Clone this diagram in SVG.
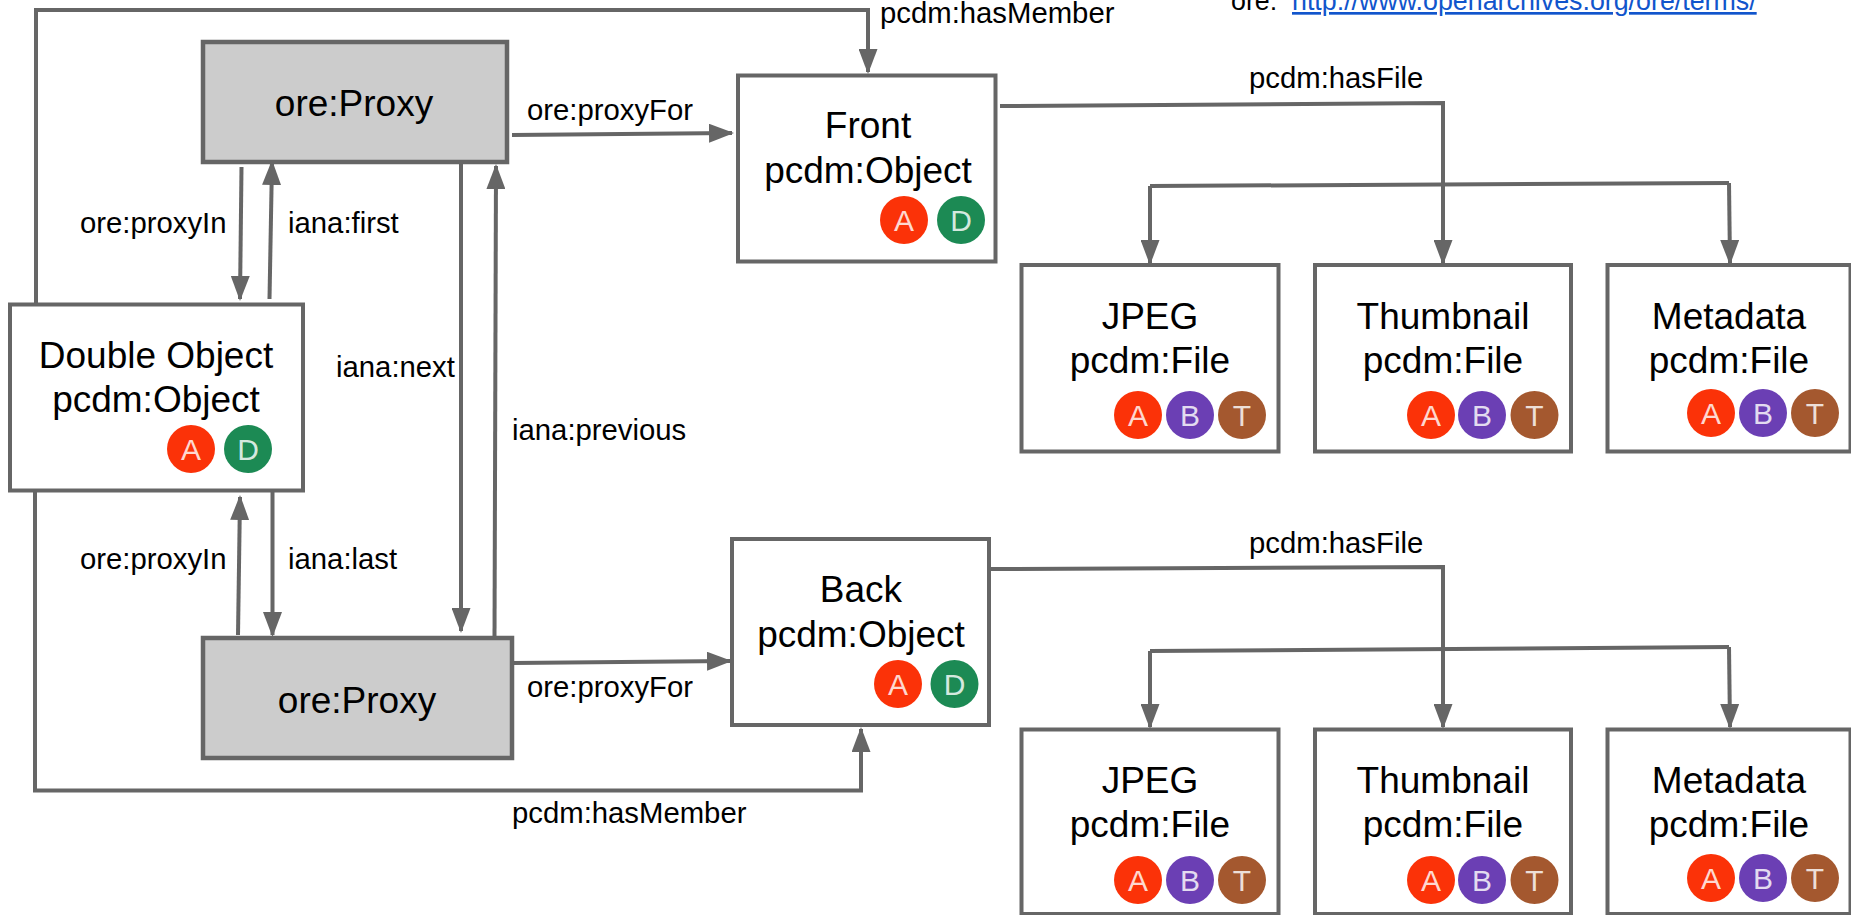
<svg xmlns="http://www.w3.org/2000/svg" xmlns:xlink="http://www.w3.org/1999/xlink" width="1851" height="915" viewBox="0 0 1851 915">
<defs>
<style>
text{font-family:"Liberation Sans",Arial,sans-serif;fill:#000}
.n{fill:#fff;stroke:#666;stroke-width:4}
.p{fill:#ccc;stroke:#666;stroke-width:4.5}
.t{font-size:37px;text-anchor:middle}
.l{font-size:29.3px}
.u{font-size:26.8px}
.c{fill:none;stroke:#666;stroke-width:4}
.b{font-size:30px;text-anchor:middle;fill:#fff;fill-opacity:.82}
</style>
<marker id="h" markerUnits="userSpaceOnUse" markerWidth="25" markerHeight="19" refX="23" refY="9.5" viewBox="0 0 25 19" orient="auto"><path d="M0 0L25 9.5L0 19Z" fill="#666"/></marker>
<g id="a"><circle r="24" fill="#fb3208"/><text class="b" y="11">A</text></g>
<g id="bb"><circle r="24" fill="#6b3fb4"/><text class="b" y="11">B</text></g>
<g id="tt"><circle r="24" fill="#a4582f"/><text class="b" y="11">T</text></g>
<g id="d"><circle r="24" fill="#1c8a54"/><text class="b" y="11">D</text></g>
</defs>
<rect width="1851" height="915" fill="#fff"/>
<g id="connectors">
<path class="c" marker-end="url(#h)" d="M36 304V10H868V72"/>
<path class="c" marker-end="url(#h)" d="M35 490V790.5H861V729"/>
<path class="c" marker-end="url(#h)" d="M241.500 167L240 299"/>
<path class="c" marker-end="url(#h)" d="M269.500 299L272 162"/>
<path class="c" marker-end="url(#h)" d="M461 163V631"/>
<path class="c" marker-end="url(#h)" d="M494.500 640L496 166"/>
<path class="c" marker-end="url(#h)" d="M238 635L240 497"/>
<path class="c" marker-end="url(#h)" d="M272.500 490V635"/>
<path class="c" marker-end="url(#h)" d="M512 135L732 133"/>
<path class="c" marker-end="url(#h)" d="M513 663L730 661"/>
<path class="c" marker-end="url(#h)" d="M1000 106L1443 103V263"/>
<path class="c" d="M1150 186L1729 183"/>
<path class="c" marker-end="url(#h)" d="M1150 186V263"/>
<path class="c" marker-end="url(#h)" d="M1729 183L1730 263"/>
<path class="c" marker-end="url(#h)" d="M990 569L1443 567V727"/>
<path class="c" d="M1150 651L1729 647"/>
<path class="c" marker-end="url(#h)" d="M1150 651V727"/>
<path class="c" marker-end="url(#h)" d="M1729 647L1730 727"/>
<text class="l" x="880" y="23">pcdm:hasMember</text>
<text class="l" x="512" y="823">pcdm:hasMember</text>
<text class="l" x="527" y="120">ore:proxyFor</text>
<text class="l" x="527" y="697">ore:proxyFor</text>
<text class="l" x="80" y="233">ore:proxyIn</text>
<text class="l" x="288" y="233">iana:first</text>
<text class="l" x="336" y="377">iana:next</text>
<text class="l" x="512" y="440">iana:previous</text>
<text class="l" x="80" y="569">ore:proxyIn</text>
<text class="l" x="288" y="569">iana:last</text>
<text class="l" x="1249" y="88">pcdm:hasFile</text>
<text class="l" x="1249" y="553">pcdm:hasFile</text>
</g>
<g id="legend">
<text class="u" x="1231" y="10">ore:</text>
<a xlink:href="http://www.openarchives.org/ore/terms/"><text class="u" x="1292" y="10" style="fill:#1155cc" text-decoration="underline">http://www.openarchives.org/ore/terms/</text></a>
</g>
<g id="proxy1"><rect class="p" x="203" y="42" width="304" height="120"/><text class="t" x="354" y="116">ore:Proxy</text></g>
<g id="proxy2"><rect class="p" x="203" y="638" width="309" height="120"/><text class="t" x="357" y="713">ore:Proxy</text></g>
<g id="double"><rect class="n" x="10" y="304.500" width="293" height="186"/><text class="t" x="156" y="368">Double Object</text><text class="t" x="156" y="412">pcdm:Object</text><use xlink:href="#a" x="191" y="449"/><use xlink:href="#d" x="248" y="449"/></g>
<g id="front"><rect class="n" x="738" y="75.500" width="257.500" height="186"/><text class="t" x="868" y="138">Front</text><text class="t" x="868" y="183">pcdm:Object</text><use xlink:href="#a" x="904" y="220"/><use xlink:href="#d" x="961" y="220"/></g>
<g id="back"><rect class="n" x="732" y="539" width="257" height="186"/><text class="t" x="861" y="602">Back</text><text class="t" x="861" y="647">pcdm:Object</text><use xlink:href="#a" x="898" y="684"/><use xlink:href="#d" x="954.500" y="684"/></g>
<g id="f1"><rect class="n" x="1021.500" y="265" width="257" height="186.500"/><text class="t" x="1150" y="329">JPEG</text><text class="t" x="1150" y="373">pcdm:File</text><use xlink:href="#a" x="1138" y="415"/><use xlink:href="#bb" x="1190" y="415"/><use xlink:href="#tt" x="1242" y="415"/></g>
<g id="f2"><rect class="n" x="1315" y="265" width="256" height="186.500"/><text class="t" x="1443" y="329">Thumbnail</text><text class="t" x="1443" y="373">pcdm:File</text><use xlink:href="#a" x="1431" y="415"/><use xlink:href="#bb" x="1482" y="415"/><use xlink:href="#tt" x="1534.500" y="415"/></g>
<g id="f3"><rect class="n" x="1607.500" y="265" width="243" height="186.500"/><text class="t" x="1729" y="329">Metadata</text><text class="t" x="1729" y="373">pcdm:File</text><use xlink:href="#a" x="1711" y="413"/><use xlink:href="#bb" x="1763" y="413"/><use xlink:href="#tt" x="1815" y="413"/></g>
<g id="f4"><rect class="n" x="1021.500" y="729.500" width="257" height="184.500"/><text class="t" x="1150" y="793">JPEG</text><text class="t" x="1150" y="837">pcdm:File</text><use xlink:href="#a" x="1138" y="880"/><use xlink:href="#bb" x="1190" y="880"/><use xlink:href="#tt" x="1242" y="880"/></g>
<g id="f5"><rect class="n" x="1315" y="729.500" width="256" height="184.500"/><text class="t" x="1443" y="793">Thumbnail</text><text class="t" x="1443" y="837">pcdm:File</text><use xlink:href="#a" x="1431" y="880"/><use xlink:href="#bb" x="1482" y="880"/><use xlink:href="#tt" x="1534.500" y="880"/></g>
<g id="f6"><rect class="n" x="1607.500" y="729.500" width="243" height="184.500"/><text class="t" x="1729" y="793">Metadata</text><text class="t" x="1729" y="837">pcdm:File</text><use xlink:href="#a" x="1711" y="878"/><use xlink:href="#bb" x="1763" y="878"/><use xlink:href="#tt" x="1815" y="878"/></g>
</svg>
